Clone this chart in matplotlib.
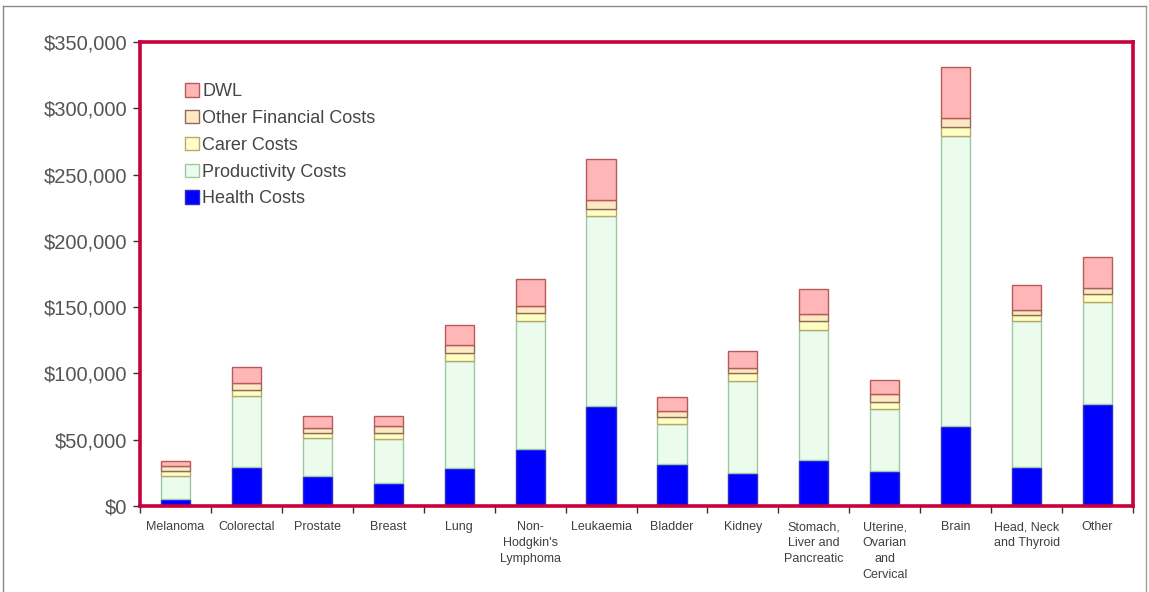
import numpy as np
import matplotlib.pyplot as plt
from matplotlib.lines import Line2D

plt.rcParams['font.family'] = ['Liberation Sans', 'DejaVu Sans']

# cancer types and cost components (AUD per case)
categories = ["Melanoma", "Colorectal", "Prostate", "Breast", "Lung",
              "Non-\nHodgkin's\nLymphoma", "Leukaemia", "Bladder", "Kidney",
              "Stomach,\nLiver and\nPancreatic", "Uterine,\nOvarian\nand\nCervical",
              "Brain", "Head, Neck\nand Thyroid", "Other"]

health = [5300, 29400, 22900, 17400, 28500, 42800, 75500, 31700, 24700,
          34700, 26400, 60600, 29700, 76800]
productivity = [17300, 53600, 28700, 32900, 80500, 96900, 142900, 30200, 69900,
                97700, 46800, 218200, 109500, 77400]
carer = [4100, 4800, 3700, 4600, 6300, 5800, 5800, 5500, 5600,
         6800, 5300, 7300, 5000, 5600]
other_fin = [3500, 5300, 3800, 5500, 6300, 5000, 6300, 4600, 3800,
             5500, 6000, 6600, 3800, 4600]
dwl = [3800, 12100, 8900, 7600, 15100, 20700, 31500, 10500, 13000,
       18900, 10600, 38500, 18900, 23800]

series = [
    ("Health Costs", health, "#0000ff", "#2a2ad0"),
    ("Productivity Costs", productivity, "#ecfcec", "#9cc8a4"),
    ("Carer Costs", carer, "#ffffc4", "#b8a870"),
    ("Other Financial Costs", other_fin, "#ffe8c4", "#8c6e58"),
    ("DWL", dwl, "#ffb6b6", "#b85a5a"),
]

fig = plt.figure(figsize=(11.49, 5.92), dpi=100)
ax = fig.add_axes([140 / 1149, 86 / 592, 993 / 1149, 464 / 592])

x = np.arange(len(categories))
bottom = np.zeros(len(categories))
handles = []
for name, vals, face, edge in series:
    ax.bar(x, vals, width=0.41, bottom=bottom, color=face, edgecolor=edge,
           linewidth=1.0, label=name, zorder=2)
    bottom += np.array(vals)
    handles.append(plt.Rectangle((0, 0), 1, 1, facecolor=face, edgecolor=edge, linewidth=1.0))

ax.set_xlim(-0.5, len(categories) - 0.5)
ax.set_ylim(0, 350000)

# y axis in dollars
ax.set_yticks(np.arange(0, 350001, 50000))
ax.set_yticklabels(["$0"] + ["${:,}".format(v) for v in range(50000, 350001, 50000)],
                   fontsize=14.5, color="#555555")
ax.tick_params(axis="y", direction="out", length=5, width=1, color="#333333", pad=4)

# category labels at bar centres, tick marks between categories
ax.set_xticks(x)
ax.set_xticklabels(categories, fontsize=9, color="#404040", linespacing=1.42)
ax.tick_params(axis="x", which="major", length=0, pad=11)
ax.set_xticks(np.arange(-0.5, len(categories), 1.0), minor=True)
ax.tick_params(axis="x", which="minor", direction="out", length=5, width=1, color="#333333")

for side in ["left", "right", "top", "bottom"]:
    ax.spines[side].set_color("#c8003c")
    ax.spines[side].set_linewidth(2.6)

leg = ax.legend(handles[::-1], [s[0] for s in series][::-1], loc="upper left",
                bbox_to_anchor=(0.029, 0.946), frameon=False, fontsize=13,
                handlelength=0.75, handleheight=0.75, handletextpad=0.2,
                labelspacing=0.54)
for t in leg.get_texts():
    t.set_color("#454545")

# thin outer frame
fig.add_artist(Line2D([3 / 1149, 1146 / 1149], [1 - 6 / 592, 1 - 6 / 592],
                      transform=fig.transFigure, color="#8a8a80", lw=1))
fig.add_artist(Line2D([3 / 1149, 3 / 1149], [1 - 6 / 592, 0.0],
                      transform=fig.transFigure, color="#8a8a80", lw=1))
fig.add_artist(Line2D([1146 / 1149, 1146 / 1149], [1 - 6 / 592, 0.0],
                      transform=fig.transFigure, color="#a0a090", lw=1))

fig.savefig("out.png", dpi=100)
